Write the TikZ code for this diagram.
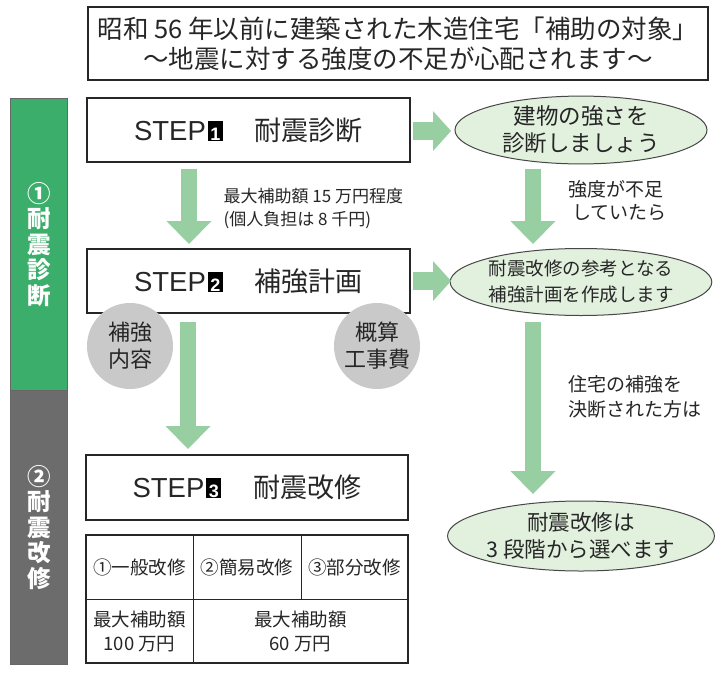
\documentclass[tikz,border=0pt]{standalone}
\usepackage{fontspec}
\setmainfont{Noto Sans CJK JP}
\newfontfamily\latinsf{Liberation Sans}
\usetikzlibrary{shapes.geometric,arrows.meta}
\definecolor{barGreen}{HTML}{3BAE6B}
\definecolor{barGray}{HTML}{6C6C6C}
\definecolor{arrGreen}{HTML}{97CFA2}
\definecolor{ellFill}{HTML}{E2F0DE}
\definecolor{circGray}{HTML}{C9C9C9}
\definecolor{inkC}{HTML}{262626}
\newcommand\fsz[2]{\fontsize{#1}{#2}\selectfont}
\newcommand\stepno[1]{\rlap{\textcolor{black}{\rule[-0.5pt]{15pt}{20pt}}}\makebox[15pt]{\textcolor{white}{\fsz{18}{18}\bfseries\latinsf #1}}}
\newcommand\steplabel[2]{{\latinsf\fsz{27.5}{28}STEP}\hspace{2pt}\stepno{#1}\hspace{32pt}{\fsz{27}{28}#2}}
\begin{document}
\begin{tikzpicture}[x=1pt,y=-1pt,
  box/.style={draw=inkC, line width=1.2pt, fill=white, inner sep=0pt, text=inkC},
  ell/.style={ellipse, draw=inkC!85, line width=1pt, fill=ellFill, inner sep=0pt,
              minimum width=252pt, align=center, text=inkC},
  downarr/.style={draw=arrGreen, line width=16pt, -{Triangle[width=45pt,length=23pt,line width=0pt]}},
  rightarr/.style={draw=arrGreen, line width=18pt, -{Triangle[width=40pt,length=18pt,line width=0pt]}},
  circ/.style={circle, fill=circGray, minimum size=86pt, inner sep=0pt, align=center, text=inkC,
               font=\fsz{22}{27}},
  bar/.style={draw=inkC!70, line width=0.8pt, minimum width=57pt, inner sep=0pt, anchor=north west},
  bartext/.style={text=white, align=center, font=\fsz{23.5}{25.5}\bfseries},
  side/.style={anchor=west, align=left, text=inkC},
  cell/.style={align=center, text=inkC, font=\fsz{18.5}{24}},
  gridline/.style={draw=inkC, line width=1pt}
]
\useasboundingbox (0,0) rectangle (715,675);
\fill[white] (0,0) rectangle (715,675);

% title
\node[box, minimum width=620pt, minimum height=73pt, align=center, font=\fsz{25.5}{30}]
  (title) at (398,43.5) {昭和 56 年以前に建築された木造住宅「補助の対象」\\～地震に対する強度の不足が心配されます～};

% left bars
\node[bar, fill=barGreen, minimum height=292pt] (barA) at (10,98) {};
\node[bar, fill=barGray, minimum height=274pt] (barB) at (10,390) {};
\node[bartext] (barAt) at (barA.center) {①\\耐\\震\\診\\断};
\node[bartext] (barBt) at (barB.center) {②\\耐\\震\\改\\修};

% step boxes
\node[box, minimum width=323pt, minimum height=64pt] (s1) at (248.5,130) {\steplabel{1}{耐震診断}};
\node[box, minimum width=323pt, minimum height=64pt] (s2) at (248.5,281) {\steplabel{2}{補強計画}};
\node[box, minimum width=322pt, minimum height=65pt] (s3) at (247,487.5) {\steplabel{3}{耐震改修}};

% gray circles
\node[circ] (c1) at (130,346) {補強\\内容};
\node[circ] (c2) at (377,346) {概算\\工事費};

% table
\node[box, minimum width=322pt, minimum height=128pt] (tbl) at (247,599) {};
\draw[gridline] (86,599) -- (408,599);
\draw[gridline] (193,535) -- (193,663);
\draw[gridline] (301,535) -- (301,599);
\node[cell] (t1) at (139.5,567) {①一般改修};
\node[cell] (t2) at (247,567) {②簡易改修};
\node[cell] (t3) at (354.5,567) {③部分改修};
\node[cell] (t4) at (139.5,631) {最大補助額\\100 万円};
\node[cell] (t5) at (300.5,631) {最大補助額\\60 万円};

% ellipses
\node[ell, minimum height=66pt, font=\fsz{22.5}{27}] (e1) at (581,130) {建物の強さを\\診断しましょう};
\node[ell, minimum height=67pt, font=\fsz{18.5}{26}] (e2) at (581,282) {耐震改修の参考となる\\補強計画を作成します};
\node[ell, minimum height=70pt, font=\fsz{21.5}{27}] (e3) at (581,536) {耐震改修は\\3 段階から選べます};

% side texts
\node[side, font=\fsz{17}{23}] (n1) at (220,209) {最大補助額 15 万円程度\\(個人負担は 8 千円)};
\node[side, font=\fsz{19}{23}] (n2) at (565,201) {強度が不足\\\hspace{4pt}していたら};
\node[side, font=\fsz{19}{25}] (n3) at (565,397) {住宅の補強を\\決断された方は};

% arrow anchor points
\coordinate (d1a) at (189,169); \coordinate (d1b) at (189,244);
\coordinate (d2a) at (188,322); \coordinate (d2b) at (188,449);
\coordinate (d3a) at (533,169); \coordinate (d3b) at (533,244);
\coordinate (d4a) at (533,322); \coordinate (d4b) at (533,494);
\coordinate (r1a) at (413,131); \coordinate (r1b) at (451,131);
\coordinate (r2a) at (413,281); \coordinate (r2b) at (451,281);

\draw[downarr] (d1a) -- (d1b);
\draw[downarr] (d2a) -- (d2b);
\draw[downarr] (d3a) -- (d3b);
\draw[downarr] (d4a) -- (d4b);
\draw[rightarr] (r1a) -- (r1b);
\draw[rightarr] (r2a) -- (r2b);
\end{tikzpicture}
\end{document}
